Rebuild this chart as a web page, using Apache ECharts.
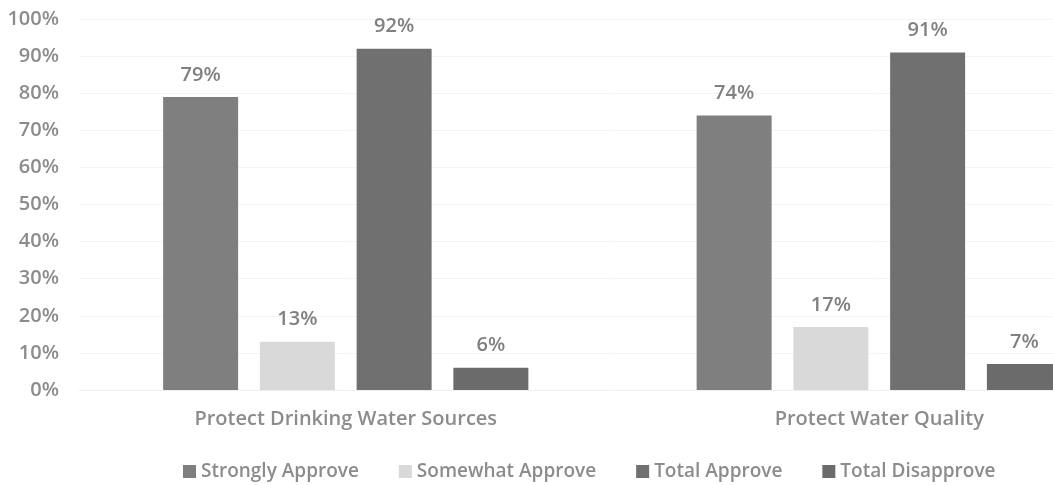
<!DOCTYPE html>
<html>
<head>
<meta charset="utf-8">
<script src="https://cdn.jsdelivr.net/npm/echarts@6/dist/echarts.min.js"></script>
<style>
html,body{margin:0;padding:0;background:#fff;overflow:hidden;width:1053px;height:485px;}
#chart{width:1146px;height:485px;}
</style>
</head>
<body>
<div id="chart"></div>
<script>
const categories = ['Protect Drinking Water Sources', 'Protect Water Quality'];
const stronglyApprove = [79, 74];
const somewhatApprove = [13, 17];
const totalApprove = [92, 91];
const totalDisapprove = [6, 7];
const seriesNames = ['Strongly Approve', 'Somewhat Approve', 'Total Approve', 'Total Disapprove'];
const yTicks = [0, 10, 20, 30, 40, 50, 60, 70, 80, 90, 100];

const FONT = '"Open Sans", sans-serif';
const colors = ['#7f7f7f', '#d9d9d9', '#707070', '#6b6b6b'];
const dataSets = [stronglyApprove, somewhatApprove, totalApprove, totalDisapprove];

const chart = echarts.init(document.getElementById('chart'));
chart.setOption({
  animation: false,
  textStyle: { fontFamily: FONT },
  grid: { left: 79, top: 19, right: 0, bottom: 95, containLabel: false },
  legend: {
    left: 178, top: 457,
    itemWidth: 13, itemHeight: 13, itemGap: 40,
    icon: 'rect',
    textStyle: { fontFamily: FONT, fontSize: 19, fontWeight: 600, color: '#8c8c8c' },
    data: seriesNames
  },
  xAxis: {
    type: 'category',
    data: categories,
    axisLine: { show: true, lineStyle: { color: '#f0f0f0' } },
    axisTick: { show: false },
    axisLabel: { fontFamily: FONT, fontSize: 20, fontWeight: 600, color: '#8c8c8c', margin: 19 }
  },
  yAxis: {
    type: 'value',
    min: yTicks[0], max: yTicks[yTicks.length - 1], interval: 10,
    axisLine: { show: false },
    axisTick: { show: false },
    splitLine: { lineStyle: { color: '#f4f4f4' } },
    axisLabel: { fontFamily: FONT, fontSize: 20, fontWeight: 600, color: '#8c8c8c', margin: 20, formatter: '{value}%' }
  },
  series: seriesNames.map((name, i) => ({
    name,
    type: 'bar',
    data: dataSets[i],
    barWidth: 75,
    barGap: '29%',
    itemStyle: { color: colors[i] },
    label: {
      show: true, position: 'top', distance: 12,
      formatter: '{c}%',
      fontFamily: FONT, fontSize: 20, fontWeight: 600, color: '#808080'
    }
  }))
});
</script>
</body>
</html>
